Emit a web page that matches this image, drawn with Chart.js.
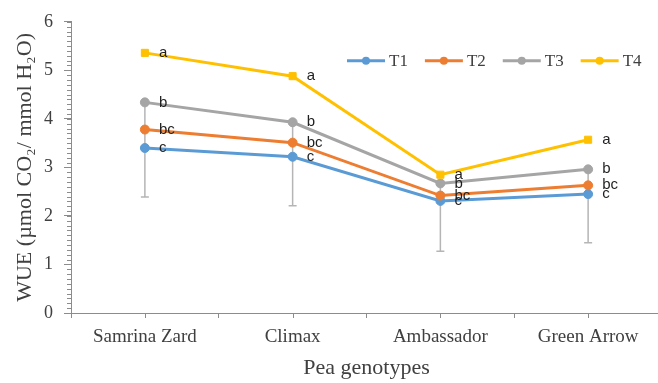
<!DOCTYPE html>
<html>
<head>
<meta charset="utf-8">
<script src="https://cdn.jsdelivr.net/npm/chart.js@4/dist/chart.umd.min.js"></script>
<style>
  html, body { margin: 0; padding: 0; background: #fff; overflow: hidden; }
  #wrap { width: 668px; height: 383px; position: relative; }
</style>
</head>
<body>
<div id="wrap"><canvas id="c"></canvas></div>
<script>
// ---- data ----
const categories = ["Samrina Zard", "Climax", "Ambassador", "Green Arrow"];
const seriesNames = ["T1", "T2", "T3", "T4"];
const T1 = [3.40, 3.22, 2.31, 2.45];
const T2 = [3.78, 3.51, 2.42, 2.63];
const T3 = [4.34, 3.93, 2.67, 2.96];
const T4 = [5.36, 4.88, 2.85, 3.57];
const T3ErrMinus = [1.95, 1.72, 1.40, 1.51];
const lettersT1 = ["c", "c", "c", "c"];
const lettersT2 = ["bc", "bc", "bc", "bc"];
const lettersT3 = ["b", "b", "b", "b"];
const lettersT4 = ["a", "a", "a", "a"];
const yTickLabels = ["0", "1", "2", "3", "4", "5", "6"];
const yMinorStep = 0.1;
const yTitle = "WUE (\u00B5mol CO\u2082/ mmol H\u2082O)";
const xTitle = "Pea genotypes";

const colors = ["#5B9BD5", "#ED7D31", "#A5A5A5", "#FFC000"];
const allSeries = [T1, T2, T3, T4];
const allLetters = [lettersT1, lettersT2, lettersT3, lettersT4];
const serif = "'Liberation Serif', 'Times New Roman', serif";
const axisColor = "#8c8c8c";

const errorBars = {
  id: "errorBars",
  beforeDatasetsDraw(chart) {
    const meta = chart.getDatasetMeta(2);
    const y = chart.scales.y;
    const ctx = chart.ctx;
    ctx.save();
    ctx.strokeStyle = "#b5b5b5";
    ctx.lineWidth = 1.5;
    meta.data.forEach((pt, i) => {
      const yLow = y.getPixelForValue(T3[i] - T3ErrMinus[i]);
      ctx.beginPath();
      ctx.moveTo(pt.x, pt.y);
      ctx.lineTo(pt.x, yLow);
      ctx.moveTo(pt.x - 4, yLow);
      ctx.lineTo(pt.x + 4, yLow);
      ctx.stroke();
    });
    ctx.restore();
  }
};

const extras = {
  id: "extras",
  afterDatasetsDraw(chart) {
    const ctx = chart.ctx;
    ctx.save();
    ctx.font = "15px 'Liberation Sans', Arial, sans-serif";
    ctx.fillStyle = "#1f1f1f";
    ctx.textBaseline = "middle";
    ctx.textAlign = "left";
    allLetters.forEach((letters, s) => {
      const meta = chart.getDatasetMeta(s);
      meta.data.forEach((pt, i) => {
        ctx.fillText(letters[i], pt.x + 14, pt.y);
      });
    });
    ctx.restore();
  },
  afterDraw(chart) {
    const ctx = chart.ctx;
    const ca = chart.chartArea;
    const x = chart.scales.x;
    const y = chart.scales.y;
    ctx.save();
    ctx.strokeStyle = axisColor;
    ctx.lineWidth = 1;
    // x center ticks
    categories.forEach((c, i) => {
      const px = Math.round(x.getPixelForValue(i)) + 0.5;
      ctx.beginPath();
      ctx.moveTo(px, ca.bottom);
      ctx.lineTo(px, ca.bottom + 5);
      ctx.stroke();
    });
    // y minor ticks
    const n = Math.round((y.max - y.min) / yMinorStep);
    for (let k = 0; k <= n; k++) {
      const py = Math.round(y.getPixelForValue(y.min + k * yMinorStep)) + 0.5;
      ctx.beginPath();
      ctx.moveTo(ca.left - 4, py);
      ctx.lineTo(ca.left, py);
      ctx.stroke();
    }
    // legend
    ctx.font = "17px " + serif;
    ctx.textBaseline = "middle";
    ctx.textAlign = "left";
    let lx = ca.left + 276;
    const ly = ca.top + 39;
    seriesNames.forEach((name, s) => {
      ctx.strokeStyle = colors[s];
      ctx.lineWidth = 3;
      ctx.beginPath();
      ctx.moveTo(lx, ly);
      ctx.lineTo(lx + 38, ly);
      ctx.stroke();
      ctx.fillStyle = colors[s];
      ctx.beginPath();
      ctx.arc(lx + 19, ly, 4, 0, Math.PI * 2);
      ctx.fill();
      ctx.fillStyle = "#404040";
      ctx.fillText(name, lx + 42, ly + 1);
      lx += 42 + ctx.measureText(name).width + 17;
    });
    ctx.restore();
  }
};

new Chart(document.getElementById("c"), {
  type: "line",
  data: {
    labels: categories,
    datasets: allSeries.map((d, s) => ({
      label: seriesNames[s],
      data: d,
      borderColor: colors[s],
      backgroundColor: colors[s],
      borderWidth: 3,
      pointRadius: s === 3 ? 5 : 4.5,
      pointStyle: s === 3 ? "rect" : "circle",
      pointBorderWidth: 1,
      tension: 0,
      order: 3 - s
    }))
  },
  options: {
    responsive: true,
    maintainAspectRatio: false,
    animation: false,
    layout: { padding: { top: 20, right: 1, left: 0, bottom: 0 } },
    plugins: { legend: { display: false }, tooltip: { enabled: false } },
    scales: {
      x: {
        type: "category",
        offset: true,
        grid: { display: true, drawOnChartArea: false, drawTicks: true, tickLength: 5, offset: true, color: axisColor },
        border: { display: true, color: axisColor, width: 1 },
        ticks: { color: "#404040", font: { family: serif, size: 19 }, padding: 8, maxRotation: 0, autoSkip: false },
        title: { display: true, text: xTitle, color: "#404040", font: { family: serif, size: 22 }, padding: { top: 0, bottom: 2 } },
        afterFit(s) { s.height = 70; }
      },
      y: {
        min: 0,
        max: 6,
        grid: { display: true, drawOnChartArea: false, drawTicks: true, tickLength: 7, color: axisColor },
        border: { display: true, color: axisColor, width: 1 },
        ticks: {
          stepSize: 1,
          color: "#404040",
          font: { family: serif, size: 18 },
          padding: 11,
          callback(v) { return yTickLabels[Math.round(v)]; }
        },
        title: { display: true, text: yTitle, color: "#404040", font: { family: serif, size: 22 }, padding: { top: 12, bottom: 0 } },
        afterFit(s) { s.width = 71; }
      }
    }
  },
  plugins: [errorBars, extras]
});
</script>
</body>
</html>
